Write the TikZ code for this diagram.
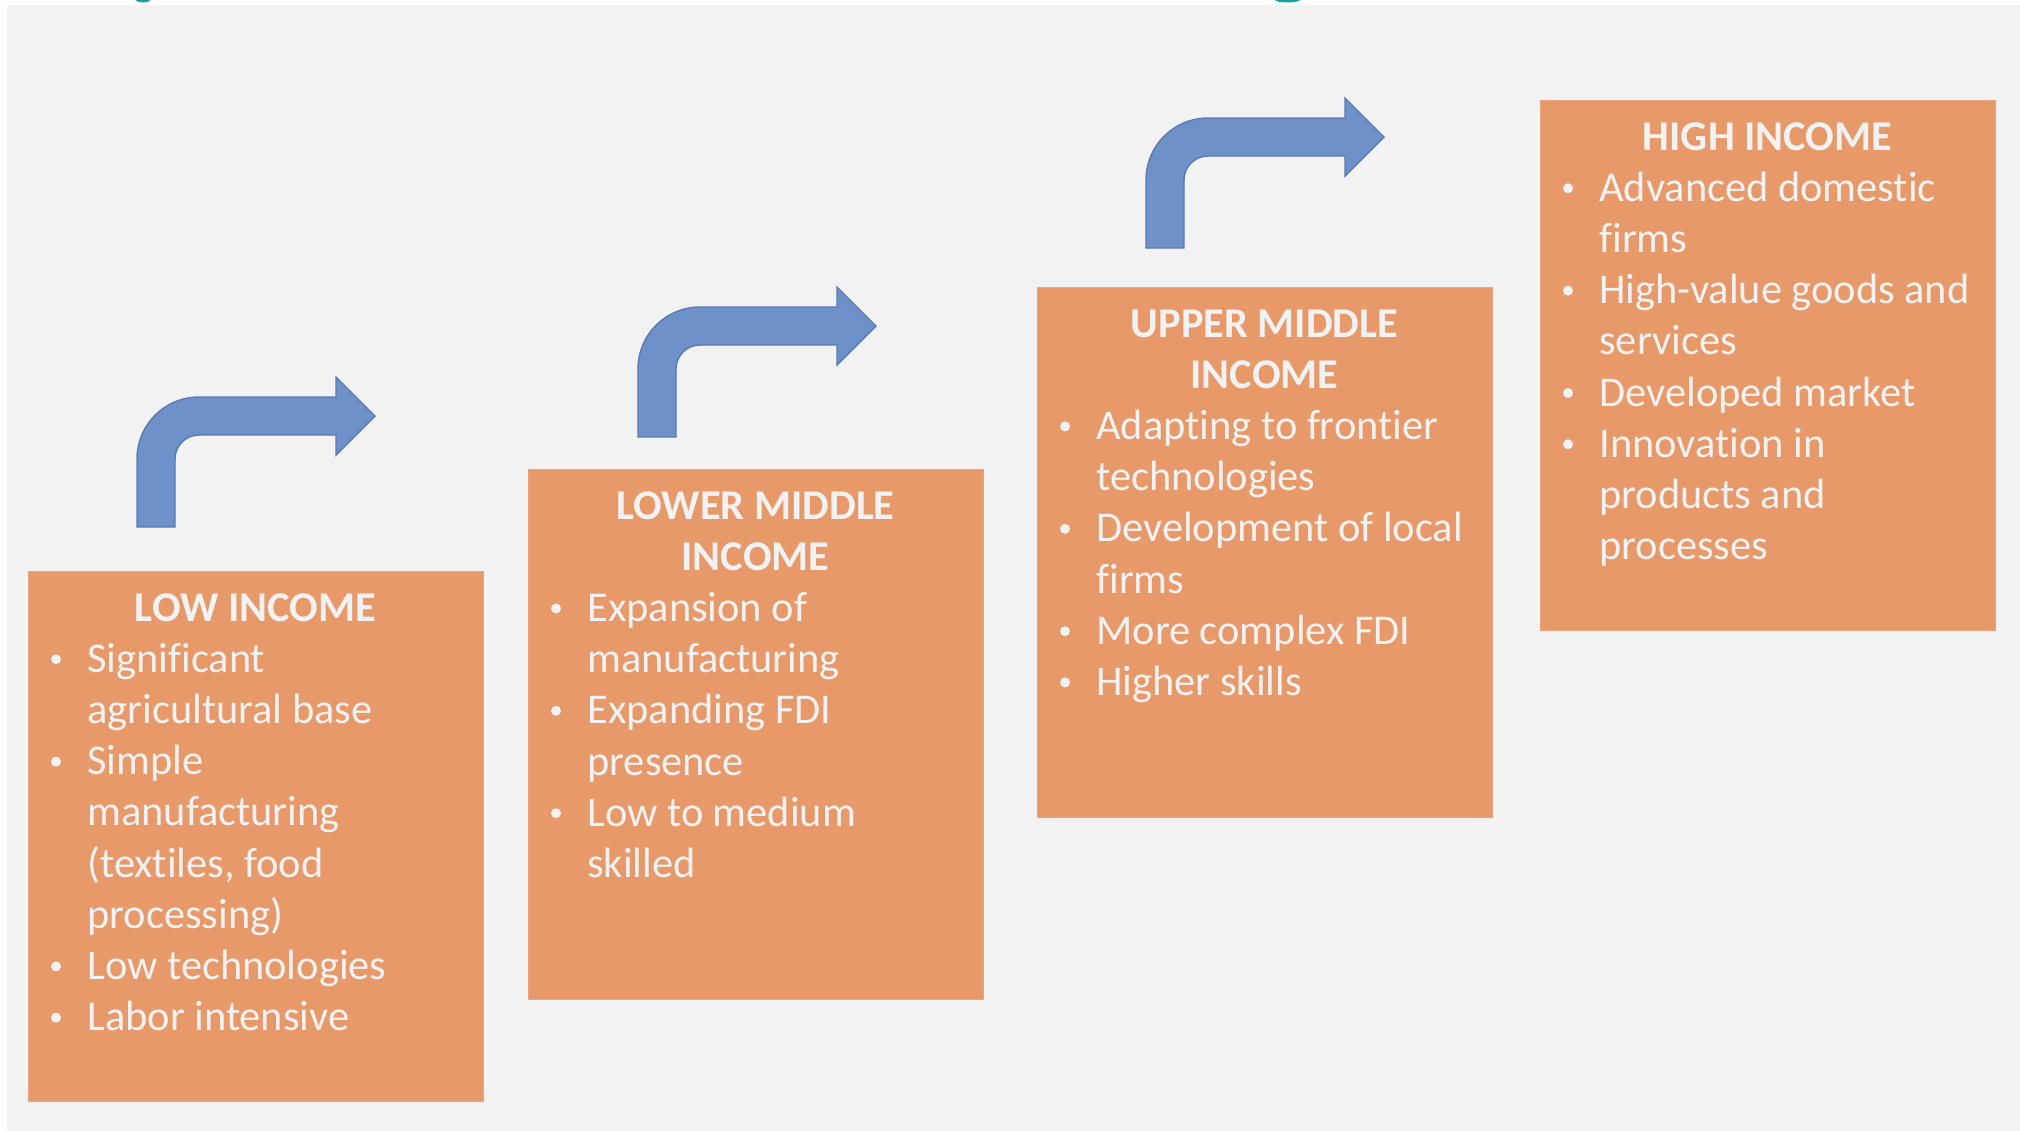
\documentclass[tikz,border=0pt]{standalone}
\usepackage{fontspec}
\setmainfont{Carlito}[Ligatures=NoCommon]
\definecolor{bggray}{HTML}{F2F2F2}
\definecolor{boxorange}{HTML}{E8996A}
\definecolor{boxedge}{HTML}{EBA57C}
\definecolor{arrowfill}{HTML}{6F91C9}
\definecolor{arrowedge}{HTML}{5A79AF}
\definecolor{txtgray}{HTML}{F2F2F2}
\definecolor{titleteal}{HTML}{17A0A0}

% one text line inside a stage box (scope is shifted to the box's north west corner)
\newcommand\incTitle[3]{\node[ttl] (#1) at (227.5,{-50-#2*51.2}) {#3};}
\newcommand\incItem[3]{%
  \node[bulc] (#1b) at (28,{-50-#2*51.2+13}) {};
  \node[itm] (#1) at (59,{-50-#2*51.2}) {#3};}
\newcommand\incCont[3]{\node[itm] (#1) at (59,{-50-#2*51.2}) {#3};}

\begin{document}
\begin{tikzpicture}[x=0.5pt,y=0.5pt,
  incbox/.style={rectangle, anchor=north west, minimum width=227.5pt,
    minimum height=265pt, inner sep=0pt, fill=boxorange, draw=boxedge, line width=0.6pt},
  itm/.style={anchor=base west, inner sep=0pt, text=txtgray,
    font=\fontsize{21.2pt}{25.6pt}\selectfont},
  bulc/.style={circle, fill=txtgray, minimum size=5pt, inner sep=0pt},
  ttl/.style={anchor=base, inner sep=0pt, text=txtgray,
    font=\fontsize{21.2pt}{25.6pt}\selectfont\bfseries},
  stairarrow/.pic={
    \draw[fill=arrowfill, draw=arrowedge, line width=0.7pt, line join=miter]
      (0,0) -- (0,68) arc[start angle=180, end angle=90, radius=31pt]
      -- (199,130) -- (199,150) -- (238,111) -- (199,72) -- (199,92)
      -- (62,92) arc[start angle=90, end angle=180, radius=12pt]
      -- (38,0) -- cycle;
  }]

% page and panel background
\fill[white] (0,0) rectangle (2020,-1131);
\useasboundingbox (0,0) rectangle (2020,-1131);
\fill[bggray] (7,-5) rectangle (2020,-1131);

% descenders of the heading line above the panel
\fill[titleteal] (136,0) arc[start angle=180, end angle=360, x radius=3.5pt, y radius=1.2pt] -- cycle;
\fill[titleteal] (1275,0) arc[start angle=180, end angle=360, x radius=6.2pt, y radius=1.2pt] -- cycle;

% stage boxes
\node[incbox] (b1) at (28,-571) {};
\node[incbox] (b2) at (528,-469) {};
\node[incbox] (b3) at (1037,-287) {};
\node[incbox] (b4) at (1540,-100) {};

% bent arrows between the stages
\pic (a1) at (137,-527) {stairarrow};
\pic (a2) at (638,-437) {stairarrow};
\pic (a3) at (1146,-248) {stairarrow};

% LOW INCOME
\begin{scope}[shift={(b1.north west)}]
  \incTitle{b1t0}{0}{LOW INCOME}
  \incItem{b1l1}{1}{Significant}
  \incCont{b1l2}{2}{agricultural base}
  \incItem{b1l3}{3}{Simple}
  \incCont{b1l4}{4}{manufacturing}
  \incCont{b1l5}{5}{(textiles, food}
  \incCont{b1l6}{6}{processing)}
  \incItem{b1l7}{7}{Low technologies}
  \incItem{b1l8}{8}{Labor intensive}
\end{scope}

% LOWER MIDDLE INCOME
\begin{scope}[shift={(b2.north west)}]
  \incTitle{b2t0}{0}{LOWER MIDDLE}
  \incTitle{b2t1}{1}{INCOME}
  \incItem{b2l2}{2}{Expansion of}
  \incCont{b2l3}{3}{manufacturing}
  \incItem{b2l4}{4}{Expanding FDI}
  \incCont{b2l5}{5}{presence}
  \incItem{b2l6}{6}{Low to medium}
  \incCont{b2l7}{7}{skilled}
\end{scope}

% UPPER MIDDLE INCOME
\begin{scope}[shift={(b3.north west)}]
  \incTitle{b3t0}{0}{UPPER MIDDLE}
  \incTitle{b3t1}{1}{INCOME}
  \incItem{b3l2}{2}{Adapting to frontier}
  \incCont{b3l3}{3}{technologies}
  \incItem{b3l4}{4}{Development of local}
  \incCont{b3l5}{5}{firms}
  \incItem{b3l6}{6}{More complex FDI}
  \incItem{b3l7}{7}{Higher skills}
\end{scope}

% HIGH INCOME
\begin{scope}[shift={(b4.north west)}]
  \incTitle{b4t0}{0}{HIGH INCOME}
  \incItem{b4l1}{1}{Advanced domestic}
  \incCont{b4l2}{2}{firms}
  \incItem{b4l3}{3}{High-value goods and}
  \incCont{b4l4}{4}{services}
  \incItem{b4l5}{5}{Developed market}
  \incItem{b4l6}{6}{Innovation in}
  \incCont{b4l7}{7}{products and}
  \incCont{b4l8}{8}{processes}
\end{scope}
\end{tikzpicture}
\end{document}
